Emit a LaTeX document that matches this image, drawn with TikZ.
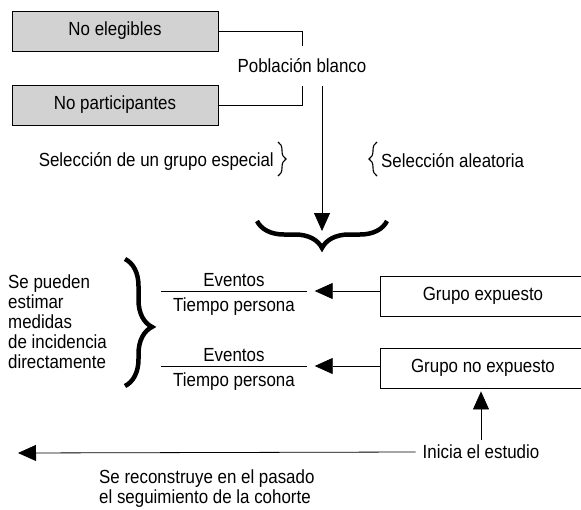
\documentclass[tikz,border=0pt]{standalone}
\usepackage{fontspec}
\setmainfont{Liberation Sans}[FakeStretch=0.89]
\usetikzlibrary{arrows.meta}
\usetikzlibrary{positioning}
\usetikzlibrary{decorations.pathreplacing}
\tikzstyle{gray box}=[draw, fill=gray!35, line width=1pt, minimum width=206pt, minimum height=40pt, inner sep=0pt]
\tikzstyle{group box}=[draw, line width=0.8pt, minimum width=206pt, minimum height=40pt, inner sep=0pt]
\tikzstyle{label}=[inner sep=0pt]
\tikzstyle{connector}=[line width=0.8pt]
\tikzstyle{pointer}=[connector, -{Triangle[length=18pt, width=16pt]}]
\tikzstyle{big brace}=[decorate, decoration={brace, amplitude=27pt}, line width=4.5pt]
\tikzstyle{small brace}=[decorate, decoration={brace, amplitude=8pt}, line width=1.1pt]

\begin{document}
\begin{tikzpicture}[x=1pt, y=-1pt, font=\fontsize{19}{20}\selectfont]
          \useasboundingbox (0, 0) rectangle (581, 509);
          \clip (0, 0) rectangle (581, 509);

          \node[gray box] (noeleg) at (115, 31) {No elegibles};
          \node[gray box] (nopart) at (115, 105) {No participantes};
          \node[label, minimum height=40pt] (blanco) at (302, 66) {Población blanco};
          \draw[connector] (noeleg.east) -| (blanco.north);
          \draw[connector] (nopart.east) -| (blanco.south);

          \node[label, anchor=east] (especial) at (274, 161) {Selección de un grupo especial};
          \node[label, anchor=west] (aleatoria) at (381, 161) {Selección aleatoria};
          \draw[small brace] (278, 142) -- (278, 176);
          \draw[small brace] (377, 176) -- (377, 142);

          \coordinate (merge) at (322, 231);
          \draw[pointer] (blanco.south -| merge) -- (merge);
          \draw[big brace] (387, 221) -- (257, 221);

          \node[label, align=left, anchor=north west] (medidas) at (8, 275)
            {Se pueden\\estimar\\medidas\\de incidencia\\directamente};
          \draw[big brace, decoration={aspect=0.535}] (125, 259) -- (125, 386);

          \node[label, minimum width=145pt] (frac1) at (234, 291) {};
          \draw[connector] (frac1.west) -- (frac1.east);
          \node[label, above=3pt of frac1] (ev1) {Eventos};
          \node[label, below=6pt of frac1] (tp1) {Tiempo persona};

          \node[label, minimum width=145pt] (frac2) at (234, 366) {};
          \draw[connector] (frac2.west) -- (frac2.east);
          \node[label, above=3pt of frac2] (ev2) {Eventos};
          \node[label, below=6pt of frac2] (tp2) {Tiempo persona};

          \node[group box] (expuesto) at (483, 296) {Grupo expuesto};
          \node[group box] (noexpuesto) at (483, 368) {Grupo no expuesto};
          \draw[pointer, shorten >=8pt] (frac1 -| expuesto.west) -- (frac1.east);
          \draw[pointer, shorten >=8pt] (frac2 -| noexpuesto.west) -- (frac2.east);

          \node[label] (inicia) at (481, 452) {Inicia el estudio};
          \draw[pointer, shorten <=5pt, shorten >=3pt] (inicia.north) -- (inicia.north |- noexpuesto.south);
          \coordinate (pasado) at (18, 453);
          \draw[pointer] ([xshift=-7pt]inicia.west) -- (pasado);

          \node[label, align=left, anchor=north west] (cohorte) at (99, 470)
            {Se reconstruye en el pasado\\el seguimiento de la cohorte};
        \end{tikzpicture}
\end{document}
